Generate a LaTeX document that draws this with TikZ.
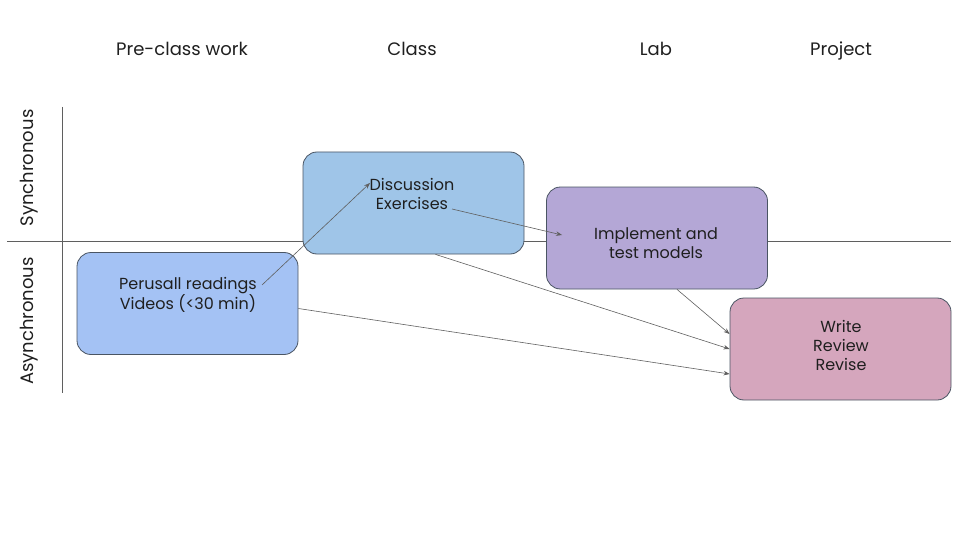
\documentclass[tikz,border=0pt]{standalone}
\usepackage{fontspec}
\setmainfont{Poppins}
\usetikzlibrary{arrows.meta,calc}
\definecolor{preblue}{HTML}{A4C2F4}
\definecolor{classblue}{HTML}{9FC5E8}
\definecolor{labpurple}{HTML}{B4A7D6}
\definecolor{projpink}{HTML}{D5A6BD}
\definecolor{boxline}{HTML}{4A5563}
\definecolor{linegray}{HTML}{5F5F5F}
\definecolor{textgray}{HTML}{1F1F1F}
\tikzset{
  box/.style={draw=boxline, line width=0.8pt, rounded corners=14pt,
    minimum width=221pt, minimum height=102pt, inner sep=0pt},
  txt/.style={align=center, text=textgray, font=\fontsize{16}{19}\selectfont},
  head/.style={text=textgray, font=\fontsize{18}{22}\selectfont},
  link/.style={draw=linegray, line width=0.6pt, -{Stealth[length=6pt,width=4.5pt]}},
}
\begin{document}
\begin{tikzpicture}[x=1pt, y=-1pt]
      \useasboundingbox (0,0) rectangle (960,540);
      %
      \node[head, anchor=base] (hpre) at (182,55.5) {Pre-class work};   % column heads
      \node[head, anchor=base] (hclass) at (412,55.5) {Class};
      \node[head, anchor=base] (hlab) at (656,55.5) {Lab};
      \node[head, anchor=base] (hproj) at (841,55.5) {Project};
      %
      \node[head, rotate=90] (hsync) at (29,168) {Synchronous};   % row heads
      \node[head, rotate=90] (hasync) at (29,321) {Asynchronous};
      %
      \coordinate (axl) at (7,241);   % axes
      \coordinate (axr) at (951,241);
      \coordinate (ayt) at (62,107);
      \coordinate (ayb) at (62,393);
      \draw[linegray, line width=0.6pt] (axl) -- (axr);
      \draw[linegray, line width=0.6pt] (ayt) -- (ayb);
      %
      \node[box, fill=preblue] (pre) at (187.5,303.5) {};   % pre-class box
      \node[txt] (pretxt) at (188,295) {Perusall readings\\Videos (<30 min)};
      %
      \node[box, fill=classblue] (class) at (413.5,203) {};   % class box
      \node[txt] (classtxt) at (412,194) {Discussion\\Exercises};
      %
      \node[box, fill=labpurple] (lab) at (657,238) {};   % lab box
      \node[txt] (labtxt) at (656,243) {Implement and\\test models};
      %
      \node[box, fill=projpink] (proj) at (840.5,349) {};   % project box
      \node[txt] (projtxt) at (841,345) {Write\\Review\\Revise};
      %
      \coordinate (perend) at (262,285);
      \coordinate (disstart) at (370,183);
      \coordinate (exend) at (452,209);
      \coordinate (impstart) at (562,235);
      \draw[link] (perend) -- (disstart);
      \draw[link] (exend) -- (impstart);
      \draw[link] ($(class.south)+(22,0)$) -- (proj.west);
      \draw[link] ($(lab.south)+(20,0)$) -- ($(proj.west)+(0,-15)$);
      \draw[link] ($(pre.east)+(0,5)$) -- ($(proj.west)+(0,25)$);
      %
    \end{tikzpicture}
\end{document}
